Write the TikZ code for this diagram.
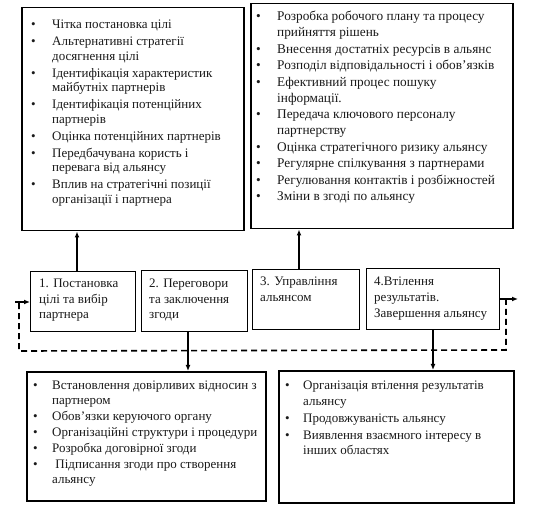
\documentclass[tikz,border=0pt]{standalone}
\usepackage{fontspec}
\setmainfont{Liberation Serif}
\usetikzlibrary{arrows.meta}
\newcommand\bitem[2][21pt]{\par\hangindent=#1\hangafter=1\noindent\makebox[#1][l]{\textbullet}#2}
\tikzset{
  bigbox/.style={draw, line width=1.5pt, inner sep=0pt, anchor=north west},
  stepbox/.style={draw, line width=0.8pt, inner sep=0pt, anchor=north west},
  txt/.style={anchor=base west, inner sep=0pt, align=left, text=black!90},
  arr/.style={line width=1.8pt, -{Latex[length=6pt,width=5pt]}},
  loop/.style={line width=1.6pt, dash pattern=on 6pt off 4pt},
}
\begin{document}
\begin{tikzpicture}[x=1pt,y=-1pt]
\useasboundingbox (0,0) rectangle (536,513);
% big boxes
\node[bigbox, minimum width=222pt, minimum height=223pt] (tl) at (21,7) {};
\node[bigbox, minimum width=262pt, minimum height=225pt] (tr) at (250,3) {};
\node[bigbox, minimum width=239pt, minimum height=129pt] (bl) at (26,371) {};
\node[bigbox, minimum width=235pt, minimum height=132pt] (br) at (278,370) {};
% step boxes
\node[stepbox, minimum width=105pt, minimum height=60pt] (s1) at (30,271) {};
\node[stepbox, minimum width=106pt, minimum height=61pt] (s2) at (141,270) {};
\node[stepbox, minimum width=107pt, minimum height=60pt] (s3) at (252,269) {};
\node[stepbox, minimum width=133pt, minimum height=61pt] (s4) at (366,268) {};
% top-left text
\node[txt] (tlt) at (31,29) {\parbox[t]{210pt}{\fontsize{13}{14.5}\selectfont\setlength\parskip{2.5pt}\raggedright
\bitem{Чітка постановка цілі}
\bitem{Альтернативні стратегії\newline досягнення цілі}
\bitem{Ідентифікація характеристик\newline майбутніх партнерів}
\bitem{Ідентифікація потенційних\newline партнерів}
\bitem{Оцінка потенційних партнерів}
\bitem{Передбачувана користь і\newline перевага від альянсу}
\bitem{Вплив на стратегічні позиції\newline організації і партнера}}};
% top-right text
\node[txt] (trt) at (256,21) {\parbox[t]{254pt}{\fontsize{13.3}{16}\selectfont\setlength\parskip{0.5pt}\raggedright
\bitem{Розробка робочого плану та процесу\newline прийняття рішень}
\bitem{Внесення достатніх ресурсів в альянс}
\bitem{Розподіл відповідальності і обовʼязків}
\bitem{Ефективний процес пошуку\newline інформації.}
\bitem{Передача ключового персоналу\newline партнерству}
\bitem{Оцінка стратегічного ризику альянсу}
\bitem{Регулярне спілкування з партнерами}
\bitem{Регулювання контактів і розбіжностей}
\bitem{Зміни в згоді по альянсу}}};
% bottom-left text
\node[txt] (blt) at (33,389) {\parbox[t]{230pt}{\fontsize{13}{15.8}\selectfont\setlength\parskip{0pt}\raggedright
\bitem[19pt]{Встановлення довірливих відносин з\newline партнером}
\bitem[19pt]{Обовʼязки керуючого органу}
\bitem[19pt]{Організаційні структури і процедури}
\bitem[19pt]{Розробка договірної згоди}
\bitem[19pt]{\ Підписання згоди про створення\newline альянсу}}};
% bottom-right text
\node[txt] (brt) at (285,389) {\parbox[t]{226pt}{\fontsize{13}{16}\selectfont\setlength\parskip{1pt}\raggedright
\bitem[18pt]{Організація втілення результатів\newline альянсу}
\bitem[18pt]{Продовжуваність альянсу}
\bitem[18pt]{Виявлення взаємного інтересу в\newline інших областях}}};
% step texts
\node[txt] (s1t) at (39,288) {\parbox[t]{95pt}{\fontsize{13}{15.5}\selectfont\raggedright 1. Постановка\\ цілі та вибір\\ партнера}};
\node[txt] (s2t) at (149,288) {\parbox[t]{97pt}{\fontsize{13}{15.5}\selectfont\raggedright 2. Переговори\\ та заключення\\ згоди}};
\node[txt] (s3t) at (260,286) {\parbox[t]{97pt}{\fontsize{13}{15.5}\selectfont\raggedright 3. Управління\\ альянсом}};
\node[txt] (s4t) at (374,286) {\parbox[t]{125pt}{\fontsize{13}{16}\selectfont\raggedright 4.Втілення\\ результатів.\\ Завершення альянсу}};
% arrow columns
\coordinate (c1) at (77,0);
\coordinate (c3) at (299,0);
\coordinate (c2) at (188,0);
\coordinate (c4) at (433,0);
\draw[arr] (s1.north -| c1) -- (tl.south -| c1);
\draw[arr] (s3.north -| c3) -- (tr.south -| c3);
\draw[arr] (s2.south -| c2) -- (bl.north -| c2);
\draw[arr] (s4.south -| c4) -- (br.north -| c4);
% feedback loop
\coordinate (lin) at (15,302);
\coordinate (ldn) at (19,351);
\coordinate (rout) at (518,299);
\coordinate (rdn) at (506,350);
\draw[arr, line width=1.5pt] (lin) -- (lin -| s1.west);
\draw[arr, line width=1.5pt] (rout -| s4.east) -- (rout);
\draw[loop] (rdn |- rout) -- (rdn) -- (ldn) -- (ldn |- lin);
\end{tikzpicture}
\end{document}
